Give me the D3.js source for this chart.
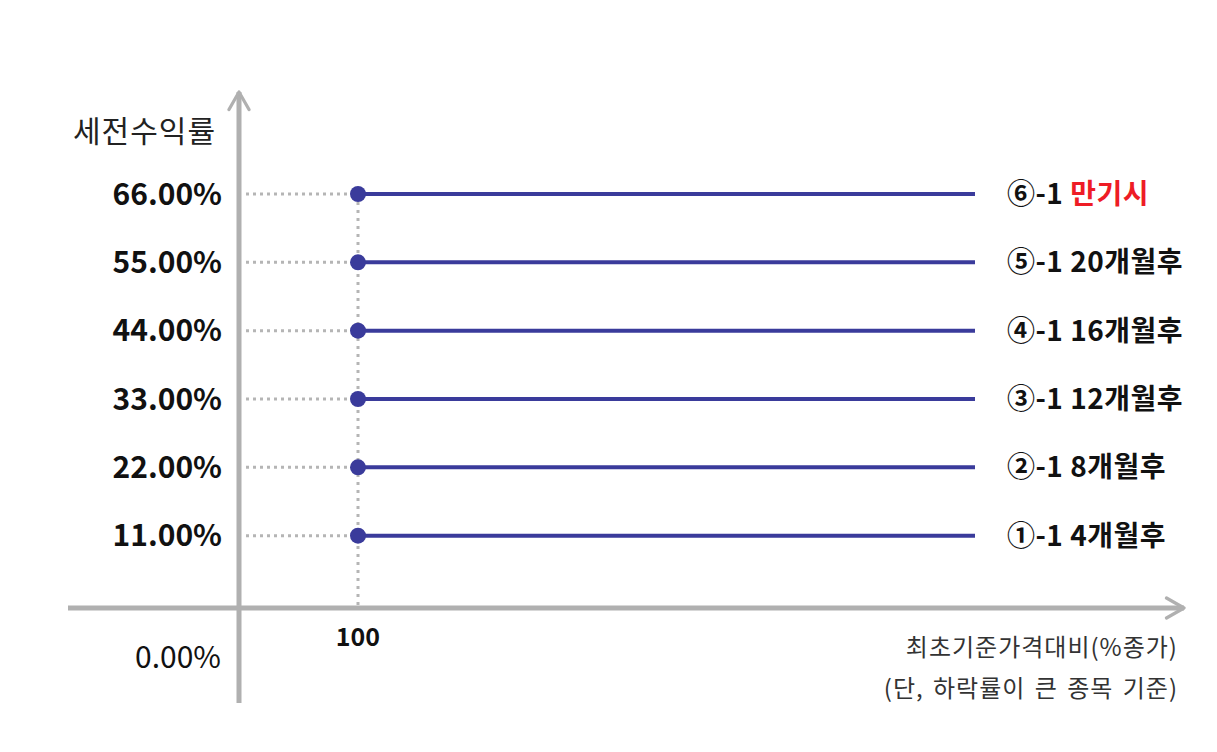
<!DOCTYPE html>
<html>
<head>
<meta charset="utf-8">
<script src="https://cdn.jsdelivr.net/npm/d3@7"></script>
<style>
  html, body { margin: 0; padding: 0; background: #fff; }
  svg { display: block; font-family: "Noto Sans CJK KR", "Noto Sans", sans-serif; }
</style>
</head>
<body>
<svg width="1217" height="752"></svg>
<script>
// data
const levels = [11, 22, 33, 44, 55, 66];
const markers = ["①", "②", "③", "④", "⑤", "⑥"];
const periods = ["4개월후", "8개월후", "12개월후", "16개월후", "20개월후", "만기시"];
const basePrice = 100;
const yTickLabels = ["11.00%", "22.00%", "33.00%", "44.00%", "55.00%", "66.00%"];

const svg = d3.select("svg");
const axisGray = "#b0b0b0";
const dotGray = "#b5b5b5";
const navy = "#3a3b9b";

// scales
const y = d3.scaleLinear().domain([0, 66]).range([604, 194]);
const x = d3.scaleLinear().domain([80, 100]).range([239, 358]);
const originX = 239, axisY = 608, lineEndX = 975;

// arrow head
svg.append("defs").append("marker")
  .attr("id", "arrow")
  .attr("viewBox", "0 0 10 10")
  .attr("refX", 8).attr("refY", 5)
  .attr("markerWidth", 5).attr("markerHeight", 5)
  .attr("markerUnits", "strokeWidth")
  .attr("orient", "auto")
  .append("path")
  .attr("d", "M1,1 L8,5 L1,9")
  .attr("fill", "none")
  .attr("stroke", axisGray)
  .attr("stroke-width", 1.3)
  .attr("stroke-linecap", "round")
  .attr("stroke-linejoin", "round");

// axes
svg.append("line")
  .attr("x1", originX).attr("x2", originX)
  .attr("y1", 703).attr("y2", 92)
  .attr("stroke", axisGray).attr("stroke-width", 5)
  .attr("marker-end", "url(#arrow)");

svg.append("line")
  .attr("x1", 68).attr("x2", 1184)
  .attr("y1", axisY).attr("y2", axisY)
  .attr("stroke", axisGray).attr("stroke-width", 5)
  .attr("marker-end", "url(#arrow)");

// dotted guides
svg.selectAll("line.hguide")
  .data(levels)
  .enter()
  .append("line")
  .attr("class", "hguide")
  .attr("x1", originX + 7).attr("x2", x(basePrice))
  .attr("y1", d => y(d)).attr("y2", d => y(d))
  .attr("stroke", dotGray).attr("stroke-width", 3)
  .attr("stroke-dasharray", "3,4");

svg.append("line")
  .attr("x1", x(basePrice)).attr("x2", x(basePrice))
  .attr("y1", y(d3.max(levels))).attr("y2", axisY - 3)
  .attr("stroke", dotGray).attr("stroke-width", 3)
  .attr("stroke-dasharray", "3,5");

// payoff lines
svg.selectAll("line.pay")
  .data(levels)
  .enter()
  .append("line")
  .attr("class", "pay")
  .attr("x1", x(basePrice)).attr("x2", lineEndX)
  .attr("y1", d => y(d)).attr("y2", d => y(d))
  .attr("stroke", navy).attr("stroke-width", 4);

svg.selectAll("circle.pt")
  .data(levels)
  .enter()
  .append("circle")
  .attr("class", "pt")
  .attr("cx", x(basePrice))
  .attr("cy", d => y(d))
  .attr("r", 8)
  .attr("fill", navy);

// y tick labels
svg.selectAll("text.ytick")
  .data(levels)
  .enter()
  .append("text")
  .attr("class", "ytick")
  .attr("x", 222)
  .attr("y", d => y(d))
  .attr("dy", "0.36em")
  .attr("text-anchor", "end")
  .style("font-size", "30px")
  .style("font-weight", "700")
  .style("fill", "#111")
  .text((d, i) => yTickLabels[i]);

svg.append("text")
  .attr("x", 221).attr("y", 657)
  .attr("dy", "0.36em")
  .attr("text-anchor", "end")
  .style("font-size", "30px")
  .style("fill", "#111")
  .text("0.00%");

svg.append("text")
  .attr("x", 216).attr("y", 131)
  .attr("dy", "0.36em")
  .attr("text-anchor", "end")
  .style("font-size", "30px")
  .style("letter-spacing", "1px")
  .style("fill", "#222")
  .text("세전수익률");

// x tick label
svg.append("text")
  .attr("x", x(basePrice)).attr("y", 637)
  .attr("dy", "0.36em")
  .attr("text-anchor", "middle")
  .style("font-size", "25px")
  .style("font-weight", "700")
  .style("fill", "#111")
  .text(basePrice);

// right labels
const lab = svg.selectAll("text.lab")
  .data(levels)
  .enter()
  .append("text")
  .attr("class", "lab")
  .attr("x", 1007)
  .attr("y", d => y(d))
  .attr("dy", "0.36em")
  .style("font-size", "28px")
  .style("font-weight", "700")
  .style("letter-spacing", "0.5px")
  .style("fill", "#111");

lab.append("tspan").text((d, i) => markers[i] + "-1 ");
lab.append("tspan")
  .style("fill", (d, i) => i === levels.length - 1 ? "#ee1c25" : "#111")
  .text((d, i) => periods[i]);

// x axis caption
svg.append("text")
  .attr("x", 1178).attr("y", 647)
  .attr("dy", "0.36em")
  .attr("text-anchor", "end")
  .style("font-size", "24px")
  .style("letter-spacing", "1px")
  .style("fill", "#333")
  .text("최초기준가격대비(%종가)");

svg.append("text")
  .attr("x", 1178).attr("y", 688)
  .attr("dy", "0.36em")
  .attr("text-anchor", "end")
  .style("font-size", "24px")
  .style("letter-spacing", "1px")
  .style("word-spacing", "3px")
  .style("fill", "#333")
  .text("(단, 하락률이 큰 종목 기준)");
</script>
</body>
</html>
